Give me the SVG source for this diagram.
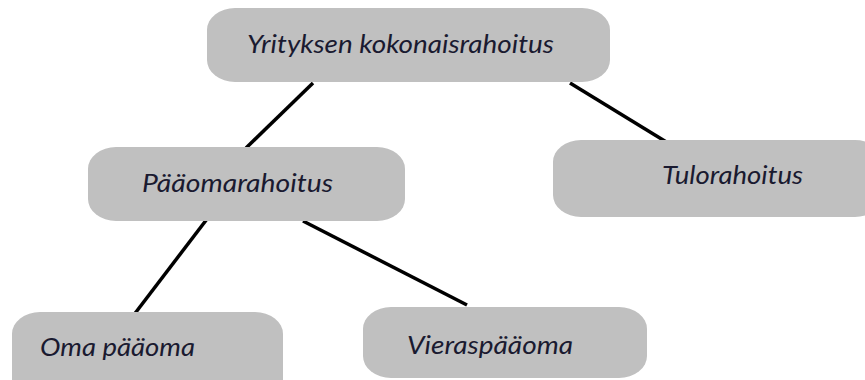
<svg xmlns="http://www.w3.org/2000/svg" width="865" height="380" viewBox="0 0 865 380">
<style>
.box{fill:#c0c0c0;}
.lbl{font-family:Lato,"Liberation Sans",sans-serif;font-style:italic;font-size:25px;fill:#1a1a30;}
.con line{stroke:#000;stroke-width:3.5;stroke-linecap:butt;}
</style>
<rect width="865" height="380" fill="#fff"/>
<g class="con" id="connectors">
<line x1="313" y1="83" x2="246" y2="148"/>
<line x1="570" y1="83" x2="668" y2="143"/>
<line x1="207" y1="219" x2="133" y2="316"/>
<line x1="303" y1="221" x2="467" y2="305"/>
</g>
<g id="n-top">
<rect class="box" x="207" y="8" width="403" height="74" rx="28" ry="22"/>
<text class="lbl" x="247" y="53" textLength="307" lengthAdjust="spacingAndGlyphs">Yrityksen kokonaisrahoitus</text>
</g>
<g id="n-paaoma">
<rect class="box" x="88" y="147" width="317" height="74" rx="28" ry="22"/>
<text class="lbl" x="142" y="192" textLength="191" lengthAdjust="spacingAndGlyphs">Pääomarahoitus</text>
</g>
<g id="n-tulo">
<rect class="box" x="553" y="140" width="330" height="77" rx="28" ry="22"/>
<text class="lbl" x="662" y="184" textLength="141" lengthAdjust="spacingAndGlyphs">Tulorahoitus</text>
</g>
<g id="n-oma">
<rect class="box" x="12" y="312" width="271" height="90" rx="28" ry="22"/>
<text class="lbl" x="40" y="356" textLength="155" lengthAdjust="spacingAndGlyphs">Oma pääoma</text>
</g>
<g id="n-vieras">
<rect class="box" x="363" y="307" width="284" height="71" rx="28" ry="22"/>
<text class="lbl" x="407" y="354" textLength="166" lengthAdjust="spacingAndGlyphs">Vieraspääoma</text>
</g>
</svg>
